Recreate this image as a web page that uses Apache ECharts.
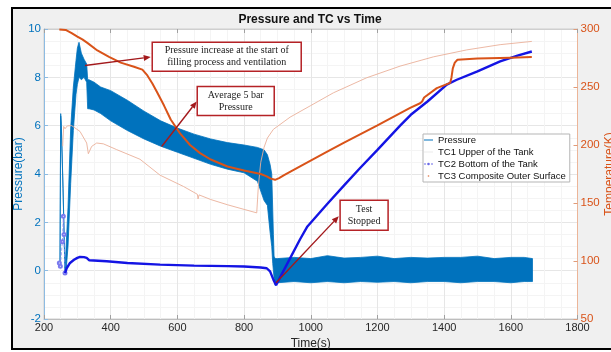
<!DOCTYPE html>
<html><head><meta charset="utf-8">
<script src="https://cdn.jsdelivr.net/npm/echarts@6/dist/echarts.min.js"></script>
<style>
html,body{margin:0;padding:0;background:#fff;width:611px;height:352px;overflow:hidden}
#frame{position:absolute;left:11px;top:7px;width:640px;height:343px;box-sizing:border-box;border:2px solid #000;background:#f0f0f0}
#chart{position:absolute;left:0;top:0;width:611px;height:352px}
</style></head><body>
<div id="frame"></div><div id="chart"></div>
<script>
// ---------- data ----------
const chartTitle = 'Pressure and TC vs Time';
const xAxisRange = [200, 1800, 200];      // min, max, step (s)
const pressureRange = [-2, 10, 2];        // bar
const tempRange = [50, 300, 50];          // K

// Pressure (noisy signal) – upper / lower envelope
const pTime = [248,250,252,257,263,266,272,280,288,296,300,305,312,320,328,331,335,350,370,400,450,500,550,600,650,700,750,800,840,860,870,878,883,886,888,890,893,896,900,950,1000,1050,1100,1150,1200,1250,1300,1350,1400,1450,1500,1550,1600,1640,1665];
const pHigh = [0.3,6.5,6.0,3.5,-0.05,0.9,2.6,5.9,7.6,8.7,9.2,9.45,9.0,8.75,8.55,7.9,7.9,7.8,7.6,7.45,7.05,6.6,6.2,5.9,5.65,5.45,5.3,5.2,5.1,5.0,4.8,4.4,4.0,2.5,1.5,0.6,0.5,0.5,0.5,0.55,0.5,0.62,0.52,0.55,0.6,0.5,0.55,0.52,0.55,0.55,0.6,0.5,0.55,0.55,0.5];
const pLow  = [0.3,6.4,5.9,3.4,-0.1,-0.05,1.0,3.6,5.8,7.3,7.7,8.0,7.9,8.0,7.8,6.7,6.7,6.65,6.5,6.2,5.8,5.45,5.15,4.9,4.65,4.4,4.2,4.05,3.7,2.9,2.7,1.6,1.0,0.3,0.0,-0.3,-0.6,-0.6,-0.5,-0.45,-0.5,-0.45,-0.5,-0.45,-0.48,-0.45,-0.5,-0.45,-0.45,-0.5,-0.45,-0.45,-0.5,-0.45,-0.45];

// TC1 Upper of the Tank (K)
const tc1Time = [246,265,283,300,315,330,360,395,430,470,495,510,525,540,560,580,608,638,668,700,750,800,850,868,880,893,905,920,968,1048,1100,1200,1298,1328,1334,1340,1378,1418,1422,1426,1432,1440,1500,1600,1663];
const tc1Temp = [299.5,299.2,296.5,293.5,291,288,281.5,276,271,267.5,265,260,253,245,234,222,210,200,193,187.5,181.5,178,175,173,171,170,171.5,174,181.6,194,202,217,232,236,237.5,241,249,253.5,258,266,271,273.5,274.5,275.3,275.8];

// TC2 Bottom of the Tank (plotted on pressure axis)
const tc2Time = [246,249,255,258,260,263,268,278,290,300,308,320,328,336,388,450,548,650,750,800,850,868,878,888,896,930,968,990,1050,1100,1148,1200,1268,1300,1350,1408,1438,1500,1568,1620,1663];
const tc2Value = [0.32,0.18,1.2,2.25,1.5,-0.1,0.1,0.32,0.45,0.53,0.57,0.56,0.53,0.43,0.39,0.32,0.25,0.21,0.19,0.17,0.13,0.1,-0.03,-0.37,-0.6,0.3,1.3,1.83,2.77,3.53,4.25,5.0,6.0,6.45,7.0,7.7,7.9,8.25,8.66,8.9,9.07];
const tc2StartCount = 6; // first points drawn as thin dashed markers

// TC3 Composite Outer Surface (K)
const tc3Time = [256,259,263,270,283,308,328,333,343,358,378,418,488,548,618,660,662,665,700,750,800,838,843,850,860,870,888,938,1000,1068,1168,1268,1368,1468,1568,1663];
const tc3Temp = [199,216,214,216.5,216.7,211.7,201.7,192.5,198.8,201.7,201,196,187.7,174,164.3,157.5,153.5,157,153,148.5,144.5,141.5,165,185,198,206,213.5,224,234,245,258,268,276,282,286.5,289.3];

const seriesNames = ['Pressure','TC1 Upper of the Tank','TC2 Bottom of the Tank','TC3 Composite Outer Surface'];
const annotationTexts = [
  ['Pressure increase at the start of','filling process and ventilation'],
  ['Average 5 bar','Pressure'],
  ['Test','Stopped']
];
// ---------- layout of annotations (data coords of box centre / arrow ends) ----------
const annotationLayout = [
  {box:[748,8.85], w:149, h:29, from:[323,8.49], to:[520,8.84]},
  {box:[775,7.02], w:77, h:29, from:[553,5.14], to:[658,7.0]},
  {box:[1160,2.29], w:48, h:30, from:[896,-0.5], to:[1084,2.25]}
];

const pairs = (xs, ys) => xs.map((x,i)=>[x, ys[i]]);
const corner = 'M0,0h.01v.01z M9,8h-.01v-.01z ';

const chart = echarts.init(document.getElementById('chart'), null, {renderer:'canvas'});
const fontSans = '"Liberation Sans", Arial, sans-serif';
const plain = v => String(v);

const option = {
  animation: false,
  backgroundColor: 'transparent',
  textStyle: {fontFamily: fontSans},
  grid: {left:44, top:29, width:533.5, height:290, show:true, backgroundColor:'#fff', borderColor:'#cfcfcf', borderWidth:1, outerBoundsMode:'none', containLabel:false},
  legend: {
    orient:'vertical', left:423, top:134, padding:[0,4,0,1], itemGap:0, itemWidth:9, itemHeight:8,
    backgroundColor:'#fff', borderColor:'#b5b5b5', borderWidth:1,
    textStyle:{fontSize:9.5, lineHeight:12, color:'#111', fontFamily:fontSans},
    data:[
      {name:seriesNames[0], icon:'path://'+corner+'M0,3.5H9V4.5H0Z', itemStyle:{color:'#0072BD'}},
      {name:seriesNames[1], icon:'path://'+corner+'M0,3.5H9V4.5H0Z', itemStyle:{color:'#ececec'}},
      {name:seriesNames[2], icon:'path://'+corner+'M0,3.6H2V4.4H0Z M7,3.6H9V4.4H7Z M3.2,4a1.3,1.3 0 1,0 2.6,0a1.3,1.3 0 1,0 -2.6,0z', itemStyle:{color:'#6a6ae8'}},
      {name:seriesNames[3], icon:'path://'+corner+'M3.8,3.2H5.2V4.8H3.8Z', itemStyle:{color:'#e58a60'}}
    ]
  },
  xAxis: [{
    type:'value', min:xAxisRange[0], max:xAxisRange[1], interval:xAxisRange[2], position:'bottom',
    axisLine:{show:true, onZero:false, lineStyle:{color:'#bdbdbd'}},
    axisTick:{show:true, inside:true, length:4, lineStyle:{color:'#a0a0a0'}},
    axisLabel:{color:'#262626', fontSize:11, margin:3, fontFamily:fontSans, formatter:plain},
    splitLine:{show:true, lineStyle:{color:'#e6e6e6'}},
    minorTick:{show:false, splitNumber:4},
    minorSplitLine:{show:true, lineStyle:{color:'#f4f4f4'}},
    name:'Time(s)', nameLocation:'middle', nameGap:19, nameMoveOverlap:false,
    nameTextStyle:{color:'#262626', fontSize:12, fontFamily:fontSans}
  },{
    type:'value', min:xAxisRange[0], max:xAxisRange[1], interval:xAxisRange[2], position:'top',
    axisLine:{show:true, onZero:false, lineStyle:{color:'#cfcfcf'}},
    axisTick:{show:true, inside:true, length:4, lineStyle:{color:'#a0a0a0'}},
    axisLabel:{show:false}, splitLine:{show:false}
  }],
  yAxis: [{
    type:'value', min:pressureRange[0], max:pressureRange[1], interval:pressureRange[2], position:'left',
    axisLine:{show:true, onZero:false, lineStyle:{color:'#8dbbe2'}},
    axisTick:{show:true, inside:true, length:4, lineStyle:{color:'#8dbbe2'}},
    axisLabel:{color:'#0072BD', fontSize:11.5, margin:3, fontFamily:fontSans, formatter:plain},
    splitLine:{show:true, lineStyle:{color:'#e6e6e6'}},
    minorTick:{show:false, splitNumber:4},
    minorSplitLine:{show:true, lineStyle:{color:'#f4f4f4'}},
    name:'Pressure(bar)', nameLocation:'middle', nameGap:19, nameRotate:90, nameMoveOverlap:false,
    nameTextStyle:{color:'#0072BD', fontSize:12, fontFamily:fontSans}
  },{
    type:'value', min:tempRange[0], max:tempRange[1], interval:tempRange[2], position:'right',
    axisLine:{show:true, onZero:false, lineStyle:{color:'#ecb598'}},
    axisTick:{show:true, inside:true, length:4, lineStyle:{color:'#e09b78'}},
    axisLabel:{color:'#D95319', fontSize:11.5, margin:3, fontFamily:fontSans, formatter:plain},
    splitLine:{show:false},
    name:'Temperature(K)', nameLocation:'middle', nameGap:26, nameRotate:90, nameMoveOverlap:false,
    nameTextStyle:{color:'#D95319', fontSize:12, fontFamily:fontSans}
  }],
  series: [
    {
      type:'custom', name:seriesNames[0], xAxisIndex:0, yAxisIndex:0, z:2, clip:true,
      data: pTime.map((t,i)=>[t, pHigh[i], pLow[i]]),
      encode:{x:0, y:[1,2]},
      renderItem: function(params, api){
        if (params.dataIndex !== 0) return null;
        const pts = [];
        for (let i=0;i<pTime.length;i++) pts.push(api.coord([pTime[i], pHigh[i]]));
        for (let i=pTime.length-1;i>=0;i--) pts.push(api.coord([pTime[i], pLow[i]]));
        return {type:'polygon', shape:{points:pts}, style:{fill:'#0072BD', stroke:'#0072BD', lineWidth:0.8}};
      }
    },
    {
      type:'line', name:'tc2-start', xAxisIndex:0, yAxisIndex:0, z:3,
      data: pairs(tc2Time.slice(0,tc2StartCount), tc2Value.slice(0,tc2StartCount)),
      symbol:'emptyCircle', symbolSize:3, showSymbol:true,
      itemStyle:{color:'#7a7aee', borderWidth:0.8},
      lineStyle:{color:'#8a8af0', width:0.8, type:'dashed'}
    },
    {
      type:'line', name:seriesNames[2], xAxisIndex:0, yAxisIndex:0, z:4,
      data: pairs(tc2Time.slice(tc2StartCount-1), tc2Value.slice(tc2StartCount-1)),
      showSymbol:false, symbol:'none',
      lineStyle:{color:'#1414e4', width:2.4}
    },
    {
      type:'line', name:seriesNames[3], xAxisIndex:0, yAxisIndex:1, z:5,
      data: pairs(tc3Time, tc3Temp), showSymbol:false, symbol:'none',
      lineStyle:{color:'#eab09a', width:0.9}
    },
    {
      type:'line', name:seriesNames[1], xAxisIndex:0, yAxisIndex:1, z:6,
      data: pairs(tc1Time, tc1Temp), showSymbol:false, symbol:'none',
      lineStyle:{color:'#D95319', width:2}
    }
  ]
};
chart.setOption(option);

// ---------- title & annotations ----------
const graphics = [{
  type:'text', x:310, y:20, z:100,
  style:{text:chartTitle, font:'bold 12px "Liberation Sans", Arial, sans-serif', fill:'#111', align:'center', verticalAlign:'middle'}
}];
const red = '#a3191c';
annotationLayout.forEach((a, k) => {
  const c = chart.convertToPixel({xAxisIndex:0, yAxisIndex:0}, a.box);
  const p1 = chart.convertToPixel({xAxisIndex:0, yAxisIndex:0}, a.from);
  const p2 = chart.convertToPixel({xAxisIndex:0, yAxisIndex:0}, a.to);
  const dx = p2[0]-p1[0], dy = p2[1]-p1[1], len = Math.hypot(dx,dy);
  const ux = dx/len, uy = dy/len, hl = 7, hw = 3;
  const bx = p2[0]-ux*hl, by = p2[1]-uy*hl;
  graphics.push({type:'line', z:100, shape:{x1:p1[0], y1:p1[1], x2:bx, y2:by}, style:{stroke:red, lineWidth:1.4}});
  graphics.push({type:'polygon', z:100, shape:{points:[[p2[0],p2[1]],[bx-uy*hw, by+ux*hw],[bx+uy*hw, by-ux*hw]]}, style:{fill:red}});
  graphics.push({type:'rect', z:100, shape:{x:c[0]-a.w/2, y:c[1]-a.h/2, width:a.w, height:a.h}, style:{fill:'#fff', stroke:'#b52226', lineWidth:1.5}});
  graphics.push({type:'text', z:101, x:c[0], y:c[1], style:{text:annotationTexts[k].join('\n'), font:'10px "Liberation Serif", "Times New Roman", serif', fill:'#222', align:'center', verticalAlign:'middle', lineHeight:12}});
});
chart.setOption({graphic: graphics});
</script>
</body></html>
